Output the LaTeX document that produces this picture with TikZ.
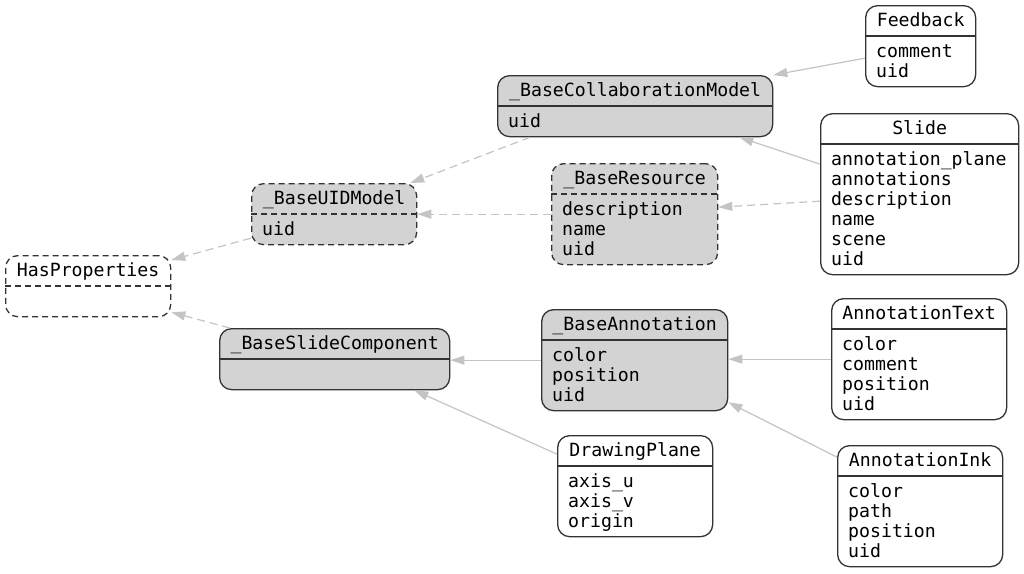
\documentclass[tikz,border=0pt]{standalone}
\usepackage{fontspec}
\newfontfamily\umlmono{DejaVu Sans Mono}
\usetikzlibrary{arrows.meta}
\definecolor{boxfill}{HTML}{D3D3D3}
\definecolor{boxline}{HTML}{333333}
\definecolor{edgecol}{HTML}{C4C4C4}
\tikzset{
  umltext/.style={font=\umlmono\fontsize{18.2pt}{20pt}\selectfont, inner sep=0pt, text=black},
  plainbox/.style={draw=boxline, line width=1.3pt, rounded corners=12pt, inner sep=0pt, anchor=north west, fill=white},
  graybox/.style={plainbox, fill=boxfill},
  dashbox/.style={dash pattern=on 6pt off 4pt},
  sepline/.style={draw=boxline, line width=1.3pt},
  inherit/.style={draw=edgecol, line width=1.2pt, -{Triangle[length=14pt,width=9pt,fill=edgecol]}},
  dashedge/.style={inherit, dash pattern=on 8pt off 5pt},
}
% #1 name, #2 x, #3 y, #4 width, #5 number of lines, #6 box style, #7 separator style, #8 title, #9 fields
\newcommand\umlclass[9]{%
  \pgfmathsetmacro\umlboxh{41+20*#5}%
  \node[#6, minimum width=#4pt, minimum height=\umlboxh pt] (#1) at (#2,#3) {};
  \draw[sepline, #7] ([yshift=-31pt]#1.north west) -- ([yshift=-31pt]#1.north east);
  \node[umltext, anchor=base] (#1-t) at ([yshift=-21.5pt]#1.north) {#8};
  \foreach \umlf [count=\umli] in {#9} {
    \node[umltext, anchor=base west] (#1-f\umli) at ([xshift=11pt,yshift={-52pt-20pt*(\umli-1)}]#1.north west) {\umlf};
  }
}
\begin{document}
\begin{tikzpicture}[x=1pt,y=-1pt]
\fill[white] (0,0) rectangle (1024,573);
\useasboundingbox (0,0) rectangle (1024,573);

\umlclass{fb}{865}{5}{110}{2}{plainbox}{}{Feedback}{comment,uid}
\umlclass{bcm}{497}{75}{275}{1}{graybox}{}{\_BaseCollaborationModel}{uid}
\umlclass{slide}{820}{113}{198}{6}{plainbox}{}{Slide}{annotation\_plane,annotations,description,name,scene,uid}
\umlclass{res}{551}{163}{166}{3}{graybox,dashbox}{dashbox}{\_BaseResource}{description,name,uid}
\umlclass{uid}{251}{183}{165}{1}{graybox,dashbox}{dashbox}{\_BaseUIDModel}{uid}
\umlclass{hp}{5}{255}{165}{1}{plainbox,dashbox}{dashbox}{HasProperties}{}
\umlclass{bsc}{219}{328}{230}{1}{graybox}{}{\_BaseSlideComponent}{}
\umlclass{ba}{541}{309}{186}{3}{graybox}{}{\_BaseAnnotation}{color,position,uid}
\umlclass{at}{831}{298}{175}{4}{plainbox}{}{AnnotationText}{color,comment,position,uid}
\umlclass{dp}{557}{435}{155}{3}{plainbox}{}{DrawingPlane}{axis\_u,axis\_v,origin}
\umlclass{ai}{837}{445}{165}{4}{plainbox}{}{AnnotationInk}{color,path,position,uid}

\draw[inherit] ([yshift=-12pt]fb.west) -- (bcm.north east);
\draw[inherit] ([yshift=30pt]slide.west) -- ([xshift=-34pt]bcm.south east);
\draw[dashedge] ([yshift=-7pt]slide.west) -- ([yshift=7pt]res.east);
\draw[dashedge] ([xshift=33pt]bcm.south west) -- ([xshift=-7pt]uid.north east);
\draw[dashedge] (res.west) -- (res.west -| uid.east);
\draw[dashedge] ([yshift=-24pt]uid.west) -- ([yshift=-5pt]hp.north east);
\draw[dashedge] ([xshift=11pt]bsc.north west) -- ([yshift=5pt]hp.south east);
\draw[inherit] (ba.west) -- (ba.west -| bsc.east);
\draw[inherit] ([yshift=32pt]dp.west) -- ([xshift=-36pt]bsc.south east);
\draw[inherit] (at.west) -- (at.west -| ba.east);
\draw[inherit] ([yshift=49pt]ai.west) -- ([yshift=9pt]ba.south east);
\end{tikzpicture}
\end{document}
